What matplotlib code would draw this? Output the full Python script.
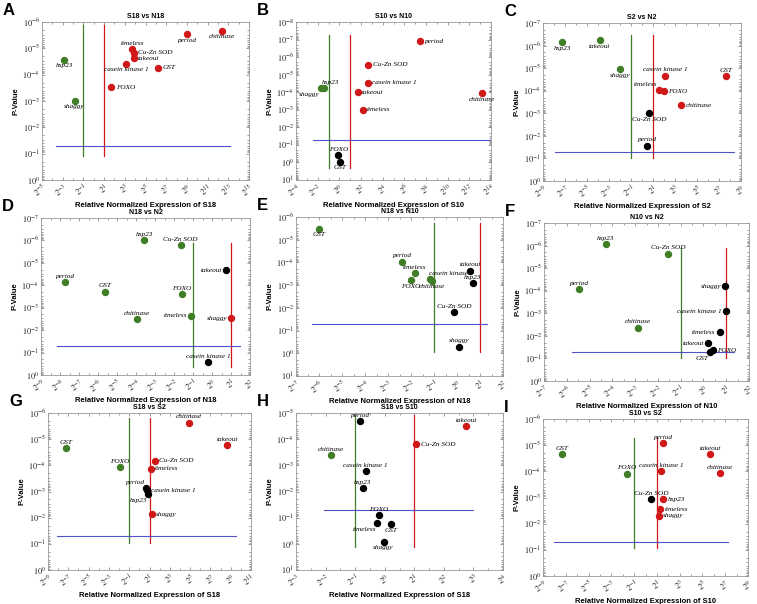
import numpy as np
import matplotlib
matplotlib.use("Agg")
import matplotlib.pyplot as plt
from matplotlib.ticker import FixedLocator, FuncFormatter, NullFormatter

plt.rcParams["font.family"] = "Liberation Sans"
plt.rcParams["mathtext.fontset"] = "stix"
plt.rcParams["mathtext.default"] = "it"

# gene order shared by every panel
GENES = ["hsp23", "shaggy", "FOXO", "casein kinase 1", "timeless",
         "Cu-Zn SOD", "takeout", "GST", "period", "chitinase"]

# log2 of relative normalized expression, log10 of p-value
A_LOG2FC = [-2.84, -1.84, 1.71, 3.13, 3.74, 3.90, 3.87, 6.23, 9.00, 12.42]
A_LOG10P = [-4.56, -3.00, -3.52, -4.41, -4.96, -4.84, -4.62, -4.27, -5.53, -5.66]

B_LOG2FC = [-1.46, -1.72, -0.08, 2.60, 2.17, 2.69, 1.68, 0.02, 7.46, 13.20]
B_LOG10P = [-4.23, -4.23, -0.42, -4.55, -2.99, -5.56, -4.00, -0.04, -6.90, -3.94]

C_LOG2FC = [-7.24, -1.97, 1.97, 2.12, 1.55, 0.67, -3.85, 7.64, 0.45, 3.58]
C_LOG10P = [-6.14, -4.96, -3.98, -4.66, -4.01, -3.00, -6.23, -4.63, -1.57, -3.35]

D_LOG2FC = [-3.56, 1.02, -1.58, -0.21, -1.10, -1.65, 0.75, -5.65, -7.72, -3.95]
D_LOG10P = [-6.00, -2.52, -3.61, -0.58, -2.64, -5.78, -4.66, -3.72, -4.13, -2.49]

E_LOG2FC = [0.68, 0.09, -2.01, -1.17, -1.83, -0.13, 0.57, -5.99, -2.39, -1.09]
E_LOG10P = [-3.09, -0.29, -3.21, -3.25, -3.53, -1.81, -3.63, -5.49, -4.03, -3.19]

F_LOG2FC = [-4.29, 0.96, 0.42, 0.97, 0.71, -1.54, 0.20, 0.30, -5.45, -2.87]
F_LOG10P = [-6.07, -4.19, -1.37, -3.10, -2.17, -5.64, -1.67, -1.28, -4.07, -2.35]

G_LOG2FC = [0.90, 1.23, -1.92, 0.77, 1.10, 1.56, 8.67, -7.26, 0.64, 4.90]
G_LOG10P = [-2.90, -2.14, -3.92, -3.04, -3.87, -4.17, -4.76, -4.66, -3.13, -5.62]

H_LOG2FC = [-0.74, -0.04, -0.21, -0.64, -0.25, 1.07, 2.76, 0.21, -0.83, -1.83]
H_LOG10P = [-2.13, -0.08, -1.10, -2.77, -0.79, -3.81, -4.49, -0.75, -4.68, -3.39]

I_LOG2FC = [1.57, 1.20, -1.66, 1.40, 1.29, 0.49, 5.69, -7.29, 1.54, 6.54]
I_LOG10P = [-2.94, -2.31, -3.90, -4.01, -2.56, -2.94, -4.66, -4.66, -5.07, -3.92]

FOLD_DOWN, FOLD_UP, P_CUT = 0.5, 2.0, 0.05

# label placement per gene (a above, b below, r right, l left, al/ar/bl corners)
A_POS = ["b", "b", "r", "b", "a", "r", "r", "r", "b", "b"]
B_POS = ["ar", "bl", "a", "r", "r", "r", "r", "b", "r", "b"]
C_POS = ["b", "b", "r", "a", "al", "b", "b", "a", "a", "r"]
D_POS = ["a", "l", "a", "a", "l", "a", "l", "a", "a", "a"]
E_POS = ["a", "a", "b", "ar", "a", "a", "a", "b", "a", "b"]
F_POS = ["a", "l", "r", "l", "l", "a", "l", "bl", "a", "a"]
G_POS = ["bl", "r", "a", "r", "r", "r", "a", "a", "al", "a"]
H_POS = ["a", "b", "a", "a", "bl", "r", "a", "b", "a", "a"]
I_POS = ["r", "r", "a", "a", "r", "a", "a", "a", "a", "a"]

GREEN = "#3f7d26"
RED = "#d01818"
BLUE = "#5050c8"

OFFSETS = {
    "a": ((0, 2.5), "center", "bottom"),
    "b": ((0, -2.5), "center", "top"),
    "r": ((3, 0), "left", "center"),
    "l": ((-3, 0), "right", "center"),
    "al": ((-1, 2.5), "right", "bottom"),
    "ar": ((-1, 2.5), "left", "bottom"),
    "bl": ((-1, -2.5), "right", "top"),
}

# letter, title, sample, x, y, label pos, (xmin, xmax, step), (ytop, ybottom),
# vertical line extent (log10 p), blue line extent (log2), axes box in px
PANELS = [
    ("A", "S18 vs N18", "S18", A_LOG2FC, A_LOG10P, A_POS, (-5, 15, 2), (-6, 0),
     (-5.89, -0.9), (-3.6, 13.2), (42, 22, 249, 180)),
    ("B", "S10 vs N10", "S10", B_LOG2FC, B_LOG10P, B_POS, (-4, 14, 2), (-8, 1),
     (-7.28, 0.34), (-2.45, 13.98), (296, 22, 491, 180)),
    ("C", "S2 vs N2", "S2", C_LOG2FC, C_LOG10P, C_POS, (-9, 9, 2), (-7, 0),
     (-6.48, -1.0), (-7.94, 8.33), (543, 23, 741, 181)),
    ("D", "N18 vs N2", "N18", D_LOG2FC, D_LOG10P, D_POS, (-9, 2, 1), (-7, 0),
     (-5.88, -0.36), (-8.16, 1.46), (41, 218, 250, 375)),
    ("E", "N18 vs N10", "N18", E_LOG2FC, E_LOG10P, E_POS, (-7, 2, 1), (-6, 1),
     (-5.74, -0.04), (-6.32, 1.32), (296, 217, 503, 376)),
    ("F", "N10 vs N2", "N10", F_LOG2FC, F_LOG10P, F_POS, (-7, 2, 1), (-7, 0),
     (-5.89, -1.03), (-5.77, 1.33), (544, 223, 749, 381)),
    ("G", "S18 vs S2", "S18", G_LOG2FC, G_LOG10P, G_POS, (-9, 11, 2), (-6, 0),
     (-5.81, -1.04), (-8.08, 9.49), (48, 413, 251, 570)),
    ("H", "S18 vs S10", "S18", H_LOG2FC, H_LOG10P, H_POS, (-3, 4, 1), (-5, 1),
     (-4.94, 0.11), (-2.05, 2.99), (296, 413, 503, 570)),
    ("I", "S10 vs S2", "S10", I_LOG2FC, I_LOG10P, I_POS, (-9, 9, 2), (-6, 0),
     (-5.26, -1.08), (-8.0, 7.26), (543, 419, 748, 576)),
]

W, H = 757, 604
fig = plt.figure(figsize=(W / 100, H / 100), dpi=100)

for letter, title, sample, lfc, lp, pos, xr, yr, vext, hext, box in PANELS:
    l, t, r, b = box
    ax = fig.add_axes([l / W, 1 - b / H, (r - l) / W, (b - t) / H])
    ax.set_xscale("log", base=2)
    ax.set_yscale("log")

    fc = 2.0 ** np.array(lfc)
    p = 10.0 ** np.array(lp)

    # threshold lines
    ax.plot([FOLD_DOWN] * 2, 10.0 ** np.array(vext), color=GREEN, lw=0.9)
    ax.plot([FOLD_UP] * 2, 10.0 ** np.array(vext), color=RED, lw=0.9)
    ax.plot(2.0 ** np.array(hext), [P_CUT] * 2, color=BLUE, lw=0.8)

    for g, x, y, where in zip(GENES, fc, p, pos):
        if y < P_CUT and x >= FOLD_UP * 0.999:
            c = RED
        elif y < P_CUT and x <= FOLD_DOWN * 1.001:
            c = GREEN
        else:
            c = "black"
        ax.plot(x, y, "o", color=c, ms=4.3, mec=c, zorder=3)
        off, ha, va = OFFSETS[where]
        ax.annotate(g, (x, y), xytext=off, textcoords="offset points",
                    ha=ha, va=va, fontsize=5.2, family="Liberation Serif",
                    style="italic", zorder=4)

    x0, x1, step = xr
    ax.set_xlim(2.0 ** x0, 2.0 ** x1)
    ax.xaxis.set_major_locator(FixedLocator(2.0 ** np.arange(x0, x1 + 1, step)))
    minor_step = 1 if step == 2 else 0.5
    ax.xaxis.set_minor_locator(FixedLocator(2.0 ** np.arange(x0, x1 + 0.01, minor_step)))
    ax.xaxis.set_major_formatter(FuncFormatter(
        lambda v, _: r"$2^{%d}$" % int(round(np.log2(v)))))
    ax.xaxis.set_minor_formatter(NullFormatter())

    ytop, ybot = yr
    ax.set_ylim(10.0 ** ybot, 10.0 ** ytop)
    ax.yaxis.set_major_locator(FixedLocator(10.0 ** np.arange(ytop, ybot + 1)))
    minors = [m * 10.0 ** d for d in range(ytop, ybot) for m in range(2, 10)]
    ax.yaxis.set_minor_locator(FixedLocator(minors))
    ax.yaxis.set_major_formatter(FuncFormatter(
        lambda v, _: r"$10^{%d}$" % int(round(np.log10(v)))))
    ax.yaxis.set_minor_formatter(NullFormatter())

    ax.tick_params(which="both", direction="in", top=True, right=True,
                   colors="#777777", labelcolor="#222222", width=0.5)
    ax.tick_params(which="major", length=2.5, labelsize=6, pad=1.5)
    ax.tick_params(which="minor", length=1.3)
    for lab in ax.get_xticklabels():
        lab.set_rotation(35)
        lab.set_ha("right")
        lab.set_rotation_mode("anchor")
    for s in ax.spines.values():
        s.set_color("#999999")
        s.set_linewidth(0.6)

    ax.set_title(title, fontsize=5, fontweight="bold", pad=3)
    ax.set_ylabel("P-Value", fontsize=5.5, fontweight="bold", labelpad=2)
    ax.set_xlabel("Relative Normalized Expression of " + sample,
                  fontsize=5.5, fontweight="bold", labelpad=2)

    fig.text((l - 39) / W, 1 - (t - 19) / H, letter, fontsize=12,
             fontweight="bold", ha="left", va="top")

fig.savefig("out.png", dpi=100)
